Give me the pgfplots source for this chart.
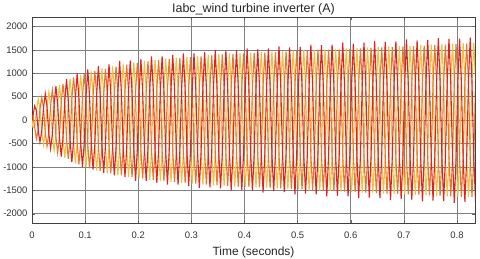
\documentclass[border=0pt]{standalone}
\usepackage{pgfplots}
\pgfplotsset{compat=1.18}
\usepackage{pgfplotstable}
\usepackage{fontspec}
\setmainfont{Liberation Sans}
\definecolor{cred}{HTML}{E42020}
\definecolor{corange}{HTML}{E27A2A}
\definecolor{cgold}{HTML}{EFC040}
\pgfplotstableread{
t a b c
0 0 0 0
0.0017 75 -150 75
0.0050 300 -150 -150
0.0083 200 200 -400
0.0117 -225 450 -225
0.0150 -470 235 235
0.0183 -240 -240 480
0.0217 260 -520 260
0.0250 560 -270 -270
0.0283 280 290 -560
0.0317 -290 600 -280
0.0350 -610 300 300
0.0383 -310 -300 640
0.0417 330 -650 320
0.0450 720 -340 -350
0.0483 350 340 -700
0.0517 -360 750 -370
0.0550 -780 370 380
0.0583 -390 -380 770
0.0617 400 -810 400
0.0650 870 -410 -400
0.0683 420 430 -830
0.0717 -430 880 -420
0.0750 -900 440 450
0.0783 -450 -440 910
0.0817 460 -930 470
0.0850 990 -470 -460
0.0883 480 470 -950
0.0917 -490 960 -480
0.0950 -1000 490 500
0.0983 -500 -490 990
0.1017 510 -1010 520
0.1050 1080 -510 -520
0.1083 520 510 -1030
0.1117 -520 1040 -510
0.1150 -1060 520 530
0.1183 -520 -530 1050
0.1217 540 -1080 550
0.1250 1150 -540 -550
0.1283 550 540 -1090
0.1317 -540 1100 -550
0.1350 -1130 550 540
0.1383 -550 -540 1090
0.1417 570 -1140 570
0.1450 1190 -570 -560
0.1483 570 580 -1140
0.1517 -570 1150 -580
0.1550 -1180 570 570
0.1583 -580 -570 1140
0.1617 590 -1180 590
0.1650 1260 -590 -600
0.1683 590 600 -1180
0.1717 -590 1190 -590
0.1750 -1220 590 600
0.1783 -600 -590 1180
0.1817 610 -1220 610
0.1850 1270 -610 -620
0.1883 610 620 -1220
0.1917 -610 1230 -610
0.1950 -1300 610 620
0.1983 -620 -610 1220
0.2017 630 -1250 620
0.2050 1300 -620 -630
0.2083 620 630 -1250
0.2117 -630 1260 -620
0.2150 -1300 630 620
0.2183 -620 -630 1250
0.2217 640 -1280 640
0.2250 1360 -640 -650
0.2283 640 650 -1280
0.2317 -640 1290 -640
0.2350 -1340 640 650
0.2383 -650 -640 1280
0.2417 650 -1300 650
0.2450 1360 -650 -660
0.2483 650 660 -1300
0.2517 -650 1310 -650
0.2550 -1380 650 660
0.2583 -660 -650 1300
0.2617 660 -1320 660
0.2650 1390 -660 -670
0.2683 660 670 -1320
0.2717 -660 1330 -660
0.2750 -1380 660 670
0.2783 -670 -660 1320
0.2817 670 -1340 670
0.2850 1420 -670 -680
0.2883 670 680 -1340
0.2917 -670 1350 -670
0.2950 -1410 670 680
0.2983 -680 -670 1340
0.3017 680 -1360 680
0.3050 1420 -680 -690
0.3083 680 690 -1360
0.3117 -680 1370 -680
0.3150 -1450 680 690
0.3183 -690 -680 1360
0.3217 690 -1380 690
0.3250 1450 -690 -700
0.3283 690 700 -1380
0.3317 -690 1390 -690
0.3350 -1440 690 700
0.3383 -700 -690 1380
0.3417 700 -1400 700
0.3450 1490 -700 -700
0.3483 700 700 -1390
0.3517 -700 1410 -700
0.3550 -1460 700 700
0.3583 -700 -700 1400
0.3617 700 -1410 710
0.3650 1480 -710 -700
0.3683 710 700 -1410
0.3717 -700 1420 -710
0.3750 -1500 710 700
0.3783 -710 -700 1410
0.3817 710 -1420 710
0.3850 1490 -710 -720
0.3883 710 720 -1420
0.3917 -710 1430 -710
0.3950 -1490 710 720
0.3983 -720 -710 1420
0.4017 720 -1430 710
0.4050 1530 -720 -710
0.4083 710 720 -1430
0.4117 -720 1440 -710
0.4150 -1510 720 710
0.4183 -710 -720 1430
0.4217 720 -1440 720
0.4250 1510 -720 -730
0.4283 720 730 -1440
0.4317 -720 1450 -720
0.4350 -1550 720 730
0.4383 -730 -720 1440
0.4417 730 -1450 720
0.4450 1530 -720 -730
0.4483 720 730 -1450
0.4517 -730 1460 -720
0.4550 -1520 730 720
0.4583 -720 -730 1450
0.4617 730 -1460 730
0.4650 1570 -730 -740
0.4683 730 740 -1460
0.4717 -730 1470 -730
0.4750 -1540 730 740
0.4783 -740 -730 1460
0.4817 740 -1470 730
0.4850 1550 -730 -740
0.4883 740 730 -1470
0.4917 -730 1480 -740
0.4950 -1590 740 730
0.4983 -740 -730 1470
0.5017 740 -1480 740
0.5050 1560 -740 -750
0.5083 740 750 -1480
0.5117 -740 1490 -740
0.5150 -1570 740 750
0.5183 -750 -740 1480
0.5217 750 -1500 750
0.5250 1610 -750 -750
0.5283 750 750 -1490
0.5317 -750 1500 -750
0.5350 -1590 750 750
0.5383 -750 -750 1500
0.5417 750 -1510 760
0.5450 1600 -760 -750
0.5483 760 750 -1510
0.5517 -750 1510 -760
0.5550 -1630 760 750
0.5583 -760 -750 1500
0.5617 760 -1520 760
0.5650 1610 -760 -760
0.5683 760 760 -1520
0.5717 -760 1520 -760
0.5750 -1620 760 760
0.5783 -760 -760 1510
0.5817 760 -1530 770
0.5850 1650 -770 -760
0.5883 770 760 -1530
0.5917 -760 1530 -770
0.5950 -1630 770 760
0.5983 -770 -760 1520
0.6017 770 -1540 770
0.6050 1630 -770 -770
0.6083 770 770 -1540
0.6117 -770 1540 -770
0.6150 -1670 770 770
0.6183 -770 -770 1530
0.6217 770 -1550 780
0.6250 1650 -780 -770
0.6283 780 770 -1550
0.6317 -770 1550 -780
0.6350 -1660 780 770
0.6383 -780 -770 1540
0.6417 780 -1560 780
0.6450 1690 -780 -780
0.6483 780 780 -1560
0.6517 -780 1560 -780
0.6550 -1670 780 780
0.6583 -780 -780 1550
0.6617 780 -1570 790
0.6650 1670 -790 -780
0.6683 790 780 -1570
0.6717 -780 1570 -790
0.6750 -1710 790 780
0.6783 -790 -780 1560
0.6817 790 -1580 790
0.6850 1680 -790 -790
0.6883 790 790 -1580
0.6917 -790 1580 -790
0.6950 -1690 790 790
0.6983 -790 -790 1570
0.7017 790 -1590 800
0.7050 1720 -800 -790
0.7083 800 790 -1590
0.7117 -790 1590 -800
0.7150 -1700 800 790
0.7183 -800 -790 1580
0.7217 800 -1600 800
0.7250 1700 -800 -800
0.7283 800 800 -1600
0.7317 -800 1600 -800
0.7350 -1740 800 800
0.7383 -800 -800 1590
0.7417 800 -1610 810
0.7450 1710 -810 -800
0.7483 810 800 -1610
0.7517 -800 1610 -810
0.7550 -1720 810 800
0.7583 -810 -800 1600
0.7617 810 -1620 810
0.7650 1750 -810 -810
0.7683 810 810 -1620
0.7717 -810 1620 -810
0.7750 -1730 810 810
0.7783 -810 -810 1610
0.7817 810 -1630 820
0.7850 1730 -820 -810
0.7883 820 810 -1630
0.7917 -810 1630 -820
0.7950 -1770 820 810
0.7983 -820 -810 1620
0.8017 820 -1640 820
0.8050 1740 -820 -820
0.8083 820 820 -1640
0.8117 -820 1640 -820
0.8150 -1750 820 820
0.8183 -820 -820 1630
0.8217 820 -1640 820
0.8250 1760 -820 -820
0.8283 820 820 -1640
0.8317 -820 1640 -820
0.8350 -1750 820 820
}\iabc
\begin{document}
\begin{tikzpicture}
\path[use as bounding box] (-32bp,-36bp) rectangle (448bp,223bp);
\begin{axis}[
  scale only axis, width=443bp, height=206bp,
  at={(0,0)}, anchor=south west,
  xmin=0, xmax=0.834, ymin=-2200, ymax=2200,
  xtick={0,0.1,0.2,0.3,0.4,0.5,0.6,0.7,0.8},
  ytick={-2000,-1500,-1000,-500,0,500,1000,1500,2000},
  grid=major, grid style={black!50, line width=0.5bp},
  axis line style={black!75, line width=0.6bp},
  tick align=inside, major tick length=3bp, tick style={black!60},
  /pgf/number format/assume math mode=true,
  /pgf/number format/1000 sep={},
  ticklabel style={font=\fontsize{9.5}{11}\selectfont, text=black!80},
  xticklabel style={anchor=base, yshift=-15.5bp},
  yticklabel style={anchor=east, xshift=-1bp},
  title={Iabc\_wind turbine inverter (A)},
  title style={at={(0.5,1)}, anchor=base, yshift=-1.5bp, font=\fontsize{12.5}{14}\selectfont, text=black!85},
  xlabel={Time (seconds)},
  xlabel style={at={(0.5,0)}, anchor=base, yshift=-32.5bp, font=\fontsize{12}{14}\selectfont, text=black!85},
]
\addplot[cgold, line width=1.1bp] table[x=t,y=b]{\iabc};
\addplot[corange, line width=1.1bp] table[x=t,y=c]{\iabc};
\addplot[cred, line width=1.1bp] table[x=t,y=a]{\iabc};
\end{axis}
\end{tikzpicture}
\end{document}
